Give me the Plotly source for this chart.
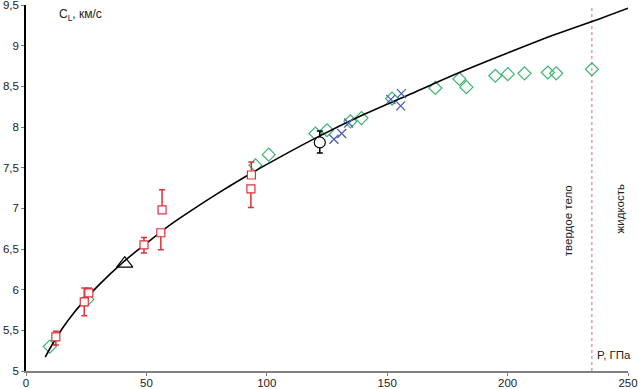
import plotly.graph_objects as go

# Fitted curve
curve_P = [8, 10, 15, 20, 25, 30, 40, 50, 60, 70, 80, 90, 100, 120, 140, 160, 180, 200, 220, 240, 250]
curve_C = [5.17, 5.28, 5.52, 5.72, 5.89, 6.05, 6.33, 6.57, 6.80, 7.00, 7.19, 7.37, 7.54, 7.86,
           8.15, 8.41, 8.67, 8.91, 9.14, 9.35, 9.46]

# Red squares with error bars
red_P = [12.4, 24.2, 26.1, 49.0, 56.0, 56.5, 93.6, 93.4]
red_C = [5.42, 5.85, 5.96, 6.55, 6.70, 6.98, 7.41, 7.24]
red_err_plus = [0.07, 0.17, 0.06, 0.09, 0.0, 0.25, 0.16, 0.0]
red_err_minus = [0.10, 0.17, 0.0, 0.10, 0.21, 0.0, 0.0, 0.23]

# Green diamonds
green_P = [9.9, 25.5, 95.3, 100.8, 120.2, 125.0, 134.7, 139.3, 152.0, 170.0, 180.0, 182.9,
           194.9, 200.1, 207.0, 216.7, 220.2, 235.0]
green_C = [5.30, 5.88, 7.53, 7.66, 7.92, 7.96, 8.07, 8.11, 8.35, 8.48, 8.59, 8.49,
           8.63, 8.65, 8.66, 8.67, 8.66, 8.71]

# Blue crosses
blue_P = [127.9, 131.1, 134.0, 151.5, 155.9, 155.6]
blue_C = [7.85, 7.92, 8.05, 8.34, 8.41, 8.26]

# Black triangle
tri_P = [41.0]
tri_C = [6.32]

# Black circle with error bar
circ_P = [122.0]
circ_C = [7.81]
circ_err_plus = [0.14]
circ_err_minus = [0.13]

# Phase boundary
boundary_P = 235.0

x_ticks = [0, 50, 100, 150, 200, 250]
y_ticks = [5, 5.5, 6, 6.5, 7, 7.5, 8, 8.5, 9, 9.5]
y_ticktext = ["5", "5,5", "6", "6,5", "7", "7,5", "8", "8,5", "9", "9,5"]

FONT = "Liberation Sans, Arial, sans-serif"

fig = go.Figure()

fig.add_trace(go.Scatter(x=[boundary_P, boundary_P], y=[5, 9.5], mode="lines",
                         line=dict(color="#e0607a", width=1, dash="dot"),
                         hoverinfo="skip", showlegend=False))

fig.add_trace(go.Scatter(x=green_P, y=green_C, mode="markers",
                         marker=dict(symbol="diamond-open", size=10,
                                     line=dict(color="#3cb371", width=1.2), color="#3cb371"),
                         showlegend=False))

fig.add_trace(go.Scatter(x=curve_P, y=curve_C, mode="lines",
                         line=dict(color="black", width=1.6, shape="spline"),
                         showlegend=False))

fig.add_trace(go.Scatter(x=blue_P, y=blue_C, mode="markers",
                         marker=dict(symbol="x-thin-open", size=9,
                                     line=dict(color="#4a5fb5", width=1.3), color="#4a5fb5"),
                         showlegend=False))

fig.add_trace(go.Scatter(x=red_P, y=red_C, mode="markers",
                         marker=dict(symbol="square", size=8, color="white",
                                     line=dict(color="#e0303a", width=1.2)),
                         error_y=dict(type="data", symmetric=False, array=red_err_plus,
                                      arrayminus=red_err_minus, color="#e0303a",
                                      thickness=1.5, width=3),
                         showlegend=False))

fig.add_trace(go.Scatter(x=tri_P, y=tri_C, mode="markers",
                         marker=dict(symbol="triangle-up-open", size=14,
                                     line=dict(color="black", width=1.2), color="black"),
                         showlegend=False))

fig.add_trace(go.Scatter(x=circ_P, y=circ_C, mode="markers",
                         marker=dict(symbol="circle", size=11, color="white",
                                     line=dict(color="black", width=1.2)),
                         error_y=dict(type="data", symmetric=False, array=circ_err_plus,
                                      arrayminus=circ_err_minus, color="black",
                                      thickness=1.5, width=3),
                         showlegend=False))

fig.add_annotation(x=12.9, y=9.38, xref="x", yref="y", text="C<sub>L</sub>, км/с",
                   showarrow=False, xanchor="left", yanchor="middle",
                   font=dict(family=FONT, size=12, color="#222"))
fig.add_annotation(x=236.1, y=5.2, xref="x", yref="y", text="P, ГПа",
                   showarrow=False, xanchor="left", yanchor="middle",
                   font=dict(family=FONT, size=11.5, color="#222"))
fig.add_annotation(x=224.9, y=7.31, xref="x", yref="y", text="твердое тело",
                   showarrow=False, textangle=-90, xanchor="center", yanchor="top",
                   font=dict(family=FONT, size=11.5, color="#222"))
fig.add_annotation(x=246.5, y=7.32, xref="x", yref="y", text="жидкость",
                   showarrow=False, textangle=-90, xanchor="center", yanchor="top",
                   font=dict(family=FONT, size=11.5, color="#222"))

fig.update_layout(
    width=638, height=389,
    margin=dict(l=26, r=10, t=5, b=18, autoexpand=False),
    paper_bgcolor="white", plot_bgcolor="white",
    font=dict(family=FONT, size=11.5, color="#222"),
    showlegend=False,
    xaxis=dict(range=[0, 250], tickvals=x_ticks, ticktext=[str(v) for v in x_ticks],
               showgrid=False, zeroline=False, showline=True, linecolor="#808080",
               linewidth=1.5, ticks="outside", ticklen=3, tickcolor="#808080",
               automargin=False, ticklabeloverflow="allow", ticklabelstandoff=-3,
               tickfont=dict(family=FONT, size=11.5, color="#222")),
    yaxis=dict(range=[5, 9.5], tickvals=y_ticks, ticktext=y_ticktext,
               showgrid=False, zeroline=False, showline=True, linecolor="black",
               linewidth=1.5, ticks="outside", ticklen=3, tickcolor="#808080",
               automargin=False, ticklabeloverflow="allow",
               tickfont=dict(family=FONT, size=11.5, color="#222")),
)

fig.write_html("out.html", config={"displayModeBar": False},
               post_script="document.body.style.margin='0';document.body.style.overflow='hidden';")
